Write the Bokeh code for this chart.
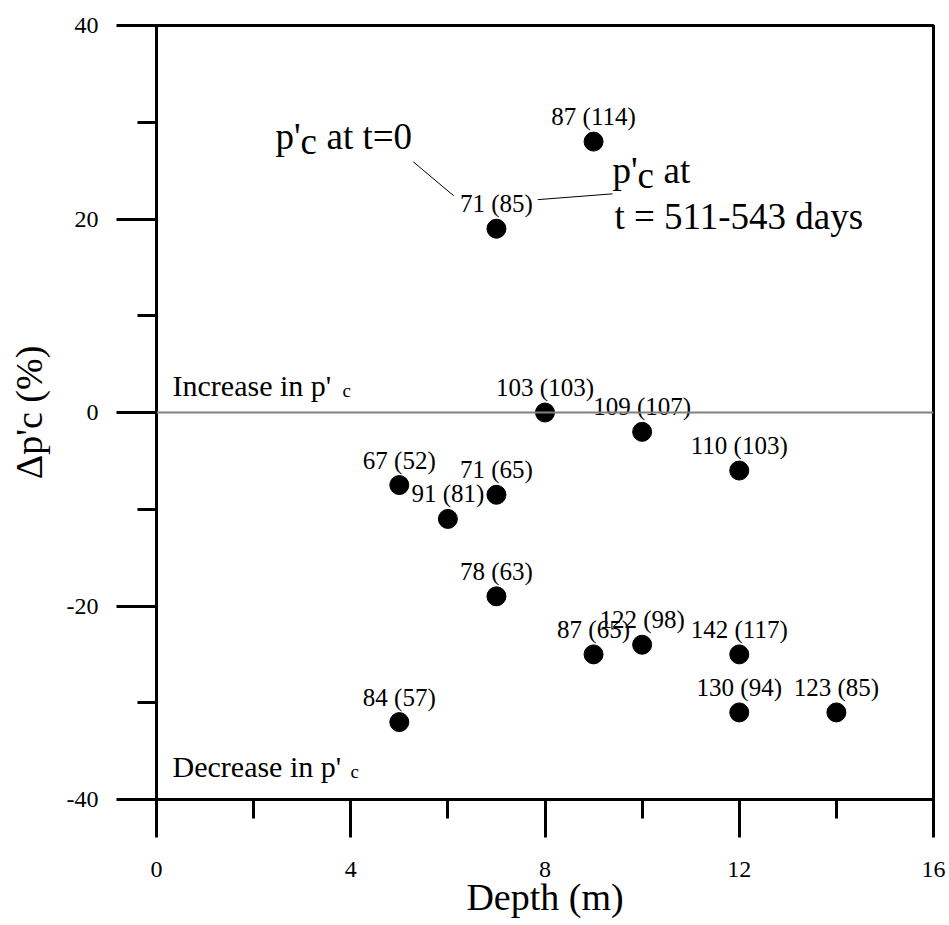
from bokeh.plotting import figure
from bokeh.models import FixedTicker, Span, Label, ColumnDataSource, Range1d
from bokeh.core.properties import value
from bokeh.embed import file_html
from bokeh.resources import INLINE

# ---- data ----
depth = [9, 7, 8, 10, 12, 5, 7, 6, 7, 9, 10, 12, 12, 14, 5]
change = [28, 19, 0, -2, -6, -7.5, -8.5, -11, -19, -25, -24, -25, -31, -31, -32]
pc_t0 = [87, 71, 103, 109, 110, 67, 71, 91, 78, 87, 122, 142, 130, 123, 84]
pc_t1 = [114, 85, 103, 107, 103, 52, 65, 81, 63, 65, 98, 117, 94, 85, 57]
x_ticks = [0, 4, 8, 12, 16]
x_minor = [2, 6, 10, 14]
y_ticks = [-40, -20, 0, 20, 40]
y_minor = [-30, -10, 10, 30]

labels = [f"{a} ({b})" for a, b in zip(pc_t0, pc_t1)]
src = ColumnDataSource(dict(depth=depth, change=change, label=labels))

FONT = "Liberation Serif"

p = figure(frame_width=777, frame_height=774,
           x_range=Range1d(0, 16), y_range=Range1d(-40, 40),
           output_backend="svg", toolbar_location=None,
           min_border_left=156, min_border_top=25, min_border_right=16,
           min_border_bottom=0, background_fill_color="white",
           border_fill_color="white")

p.grid.visible = False
p.outline_line_color = "black"
p.outline_line_width = 3
p.outline_line_alpha = 1.0

# x axis
xa = p.xaxis[0]
xa.ticker = FixedTicker(ticks=x_ticks, minor_ticks=x_minor)
xa.major_label_overrides = {t: str(t) for t in x_ticks}
xa.major_tick_in = 0
xa.major_tick_out = 38
xa.minor_tick_in = 0
xa.minor_tick_out = 19
xa.axis_line_width = 3
xa.major_tick_line_width = 3
xa.minor_tick_line_width = 3
xa.major_label_text_font = FONT
xa.major_label_text_font_size = "24px"
xa.major_label_text_color = "black"
xa.major_label_standoff = 24
xa.axis_label = "Depth (m)"
xa.axis_label_text_font = FONT
xa.axis_label_text_font_size = "38px"
xa.axis_label_text_font_style = "normal"
xa.axis_label_text_color = "black"
xa.axis_label_standoff = -4

# y axis
ya = p.yaxis[0]
ya.ticker = FixedTicker(ticks=y_ticks, minor_ticks=y_minor)
ya.major_label_overrides = {t: str(t) for t in y_ticks}
ya.major_tick_in = 0
ya.major_tick_out = 40
ya.minor_tick_in = 0
ya.minor_tick_out = 19
ya.axis_line_width = 3
ya.major_tick_line_width = 3
ya.minor_tick_line_width = 3
ya.major_label_text_font = FONT
ya.major_label_text_font_size = "24px"
ya.major_label_text_color = "black"
ya.major_label_standoff = 18
ya.axis_label = "\u0394p'c (%)"
ya.axis_label_text_font = FONT
ya.axis_label_text_font_size = "38px"
ya.axis_label_text_font_style = "normal"
ya.axis_label_text_color = "black"
ya.axis_label_standoff = 14

# zero line
p.add_layout(Span(location=0, dimension="width", line_color="#808080", line_width=2))

# points and labels
p.scatter(x="depth", y="change", source=src, size=19, marker="circle",
          fill_color="black", line_color="black")
p.text(x="depth", y="change", text="label", source=src,
       text_font=value(FONT), text_font_size="25px", text_color="black",
       text_align="center", text_baseline="middle", y_offset=-25)

# ---- annotations ----
def lab(x, y, txt, size, xo=0, yo=0):
    p.add_layout(Label(x=x, y=y, text=txt, x_units="data", y_units="data",
                       x_offset=xo, y_offset=yo,
                       text_font=FONT, text_font_size=f"{size}px",
                       text_color="black", text_align="left",
                       text_baseline="alphabetic"))

# p'c at t=0
lab(2.45, 28.5, "p'", 37)
lab(2.45, 28.5, "c", 37, xo=25, yo=-5)
lab(2.45, 28.5, "at t=0", 37, xo=51)
# p'c at t = 511-543 days
lab(9.39, 25.0, "p'", 37)
lab(9.39, 25.0, "c", 37, xo=25, yo=-5)
lab(9.39, 25.0, "at", 37, xo=51)
lab(9.43, 20.3, "t = 511-543 days", 37)

# leader lines
p.line(x=[5.29, 6.12], y=[25.9, 22.4], line_color="black", line_width=1)
p.line(x=[7.85, 9.39], y=[22.0, 22.6], line_color="black", line_width=1)

# Increase / Decrease
lab(0.33, 2.8, "Increase in p'", 30)
lab(0.33, 2.8, "c", 19, xo=170, yo=-5)
lab(0.33, -36.6, "Decrease in p'", 30)
lab(0.33, -36.6, "c", 19, xo=178, yo=-5)

open("out.html", "w").write(file_html(p, INLINE))
